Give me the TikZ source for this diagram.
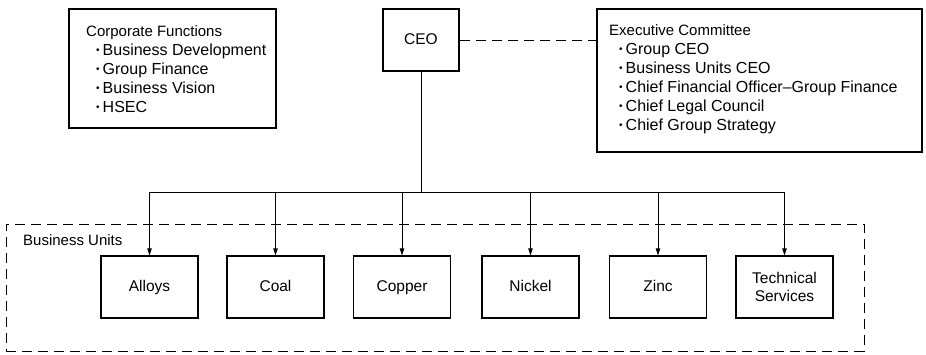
\documentclass[tikz,border=0pt]{standalone}
\usepackage{fontspec}
\setmainfont{Liberation Sans}
\usetikzlibrary{arrows.meta}
\tikzset{
  box/.style={draw, line width=1.3pt, rectangle, inner sep=0pt},
  ubox/.style={box, minimum width=97pt, minimum height=62pt, align=center, font=\fontsize{15.5}{18}\selectfont},
  oneline/.style={text height=11pt, text depth=3pt},
  txt/.style={inner sep=0pt, anchor=north west, align=left, font=\fontsize{15}{19}\selectfont},
  conn/.style={line width=0.8pt},
  arr/.style={line width=0.8pt, -{Triangle[length=7pt,width=4.5pt]}},
  dsh/.style={line width=0.9pt, dash pattern=on 10pt off 6pt},
}
\newcommand{\bl}{\hspace*{10pt}{\fontsize{10}{10}\selectfont\raisebox{1.5pt}{•}}\hspace{3pt}\fontsize{16}{19}\selectfont}
\begin{document}
\begin{tikzpicture}[x=1pt,y=-1pt]
\useasboundingbox (0,0) rectangle (926,354);
% top boxes
\node[box, minimum width=207pt, minimum height=119pt] (cf) at (172.5,68.5) {};
\node[txt] (cft) at (86,25) {Corporate Functions\\\bl Business Development\\\bl Group Finance\\\bl Business Vision\\\bl HSEC};
\node[box, oneline, minimum width=76pt, minimum height=62pt, font=\fontsize{15.5}{18}\selectfont] (ceo) at (421,40) {CEO};
\node[box, minimum width=325pt, minimum height=143pt] (ec) at (759.5,80.5) {};
\node[txt] (ect) at (609,24) {Executive Committee\\\bl Group CEO\\\bl Business Units CEO\\\bl Chief Financial Officer--Group Finance\\\bl Chief Legal Council\\\bl Chief Group Strategy};
\draw[dsh] (ceo.east) -- (ceo.east -| ec.west);
% business units frame
\node[draw, dsh, rectangle, minimum width=858pt, minimum height=127pt, inner sep=0pt] (bu) at (435,287.5) {};
\node[inner sep=0pt, anchor=base west, font=\fontsize{15}{17}\selectfont] (bul) at (23,245) {Business Units};
% unit boxes
\node[ubox, oneline] (alloys) at (149.5,287) {Alloys};
\node[ubox, oneline] (coal) at (275.5,287) {Coal};
\node[ubox, oneline] (copper) at (402,287) {Copper};
\node[ubox, oneline] (nickel) at (530.5,287) {Nickel};
\node[ubox, oneline] (zinc) at (658,287) {Zinc};
\node[ubox] (tech) at (784.5,287) {Technical\\Services};
% connectors
\coordinate (bus) at (421,192);
\draw[conn] (ceo.south) -- (bus);
\draw[conn] (bus -| alloys.north) -- (bus -| tech.north);
\foreach \n in {alloys,coal,copper,nickel,zinc,tech}
  \draw[arr] (bus -| \n.north) -- (\n.north);
\end{tikzpicture}
\end{document}
